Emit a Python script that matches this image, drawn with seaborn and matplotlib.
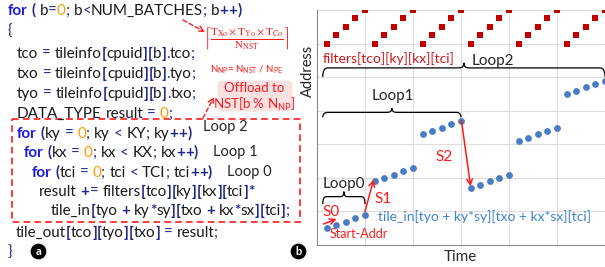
import re
import matplotlib
matplotlib.use('Agg')
import matplotlib.pyplot as plt
import seaborn as sns
import pandas as pd
from matplotlib.path import Path
from matplotlib.patches import PathPatch, Rectangle, FancyBboxPatch
from matplotlib.font_manager import FontProperties
from matplotlib.ticker import MultipleLocator

# ---- chart data ----
time = [1, 2, 3, 4, 5, 6, 7, 8, 9, 10, 11, 12, 13, 14, 15,
        16, 17, 18, 19, 20, 21, 22, 23, 24, 25, 26, 27, 28, 29, 30]
filter_addr = [24, 25, 26, 27, 28, 24, 25, 26, 27, 28, 24, 25, 26, 27, 28,
               24, 25, 26, 27, 28, 24, 25, 26, 27, 28, 24, 25, 26, 27, 28]
tile_addr = [2.0, 2.4, 2.8, 3.2, 3.6, 7.6, 8.0, 8.4, 8.8, 9.2,
             13.2, 13.6, 14.0, 14.4, 14.8, 6.8, 7.2, 7.6, 8.0, 8.4,
             12.4, 12.8, 13.2, 13.6, 14.0, 18.0, 18.4, 18.8, 19.2, 19.6]

code_lines = [
    "for ( b=0; b<NUM_BATCHES; b++)",
    "{",
    "tco = tileinfo[cpuid][b].tco;",
    "txo = tileinfo[cpuid][b].tyo;",
    "tyo = tileinfo[cpuid][b].txo;",
    "DATA_TYPE result = 0;",
    "for (ky = 0; ky < KY; ky++)",
    "for (kx = 0; kx < KX; kx++)",
    "for (tci = 0; tci < TCI; tci++)",
    "result += filters[tco][ky][kx][tci]*",
    "tile_in[tyo + ky*sy][txo + kx*sx][tci];",
    "tile_out[tco][tyo][txo] = result;",
    "}",
]
code_x = [8, 8, 17, 17, 17, 17, 17, 24, 32, 39, 51, 16, 8]
code_base = [15, 36, 58, 78, 98, 118, 138, 157, 177, 196, 215, 237, 257]

df = pd.DataFrame({'time': time, 'filters': filter_addr, 'tile_in': tile_addr})

sns.set_style('white')
plt.rcParams['font.family'] = ['Lato', 'DejaVu Sans']

RED = '#FF1A1A'
KW_C, OP_C, NUM_C, ID_C = '#1C1CE0', '#1F2A88', '#FF9A00', '#1A1A1A'

fig = plt.figure(figsize=(6.05, 2.67), dpi=100)

# ---- right panel: address trace ----
ax = fig.add_axes([317 / 605, 22 / 267, 288 / 605, 235 / 267])
sns.scatterplot(data=df, x='time', y='filters', marker='s', color='#C00000',
                s=20, linewidth=0, ax=ax, zorder=3)
sns.scatterplot(data=df, x='time', y='tile_in', marker='o', color='#4A7DC0',
                s=24, linewidth=0, ax=ax, zorder=3)
ax.set_xlim(0, 30)
ax.set_ylim(0, 28)
ax.xaxis.set_major_locator(MultipleLocator(5))
ax.xaxis.set_minor_locator(MultipleLocator(1))
ax.yaxis.set_major_locator(MultipleLocator(4))
ax.yaxis.set_minor_locator(MultipleLocator(1))
ax.grid(True, which='major', color='#DEDEDE', lw=0.8)
ax.set_axisbelow(True)
for s in ['top', 'right']:
    ax.spines[s].set_visible(False)
for s in ['left', 'bottom']:
    ax.spines[s].set_color('#8C8C8C')
ax.tick_params(which='major', direction='inout', length=6, color='#8C8C8C',
               labelbottom=False, labelleft=False)
ax.tick_params(which='minor', direction='out', length=3, color='#8C8C8C')
ax.set_xlabel('Time', fontsize=11)
ax.set_ylabel('Address', fontsize=10.5)
ax.xaxis.set_label_coords(0.497, -0.02)
ax.yaxis.set_label_coords(-0.008, 0.74)


def brace(ax, x0, x1, y, drop, rise, r=0.5):
    xm = (x0 + x1) / 2
    verts = [(x0, y - drop), (x0, y), (x0 + r, y), (xm - r, y), (xm, y), (xm, y + rise),
             (xm, y), (xm + r, y), (x1 - r, y), (x1, y), (x1, y - drop)]
    codes = [Path.MOVETO, Path.CURVE3, Path.CURVE3, Path.LINETO, Path.CURVE3, Path.CURVE3,
             Path.CURVE3, Path.CURVE3, Path.LINETO, Path.CURVE3, Path.CURVE3]
    ax.add_patch(PathPatch(Path(verts, codes), fc='none', ec='black', lw=0.9, clip_on=False))


brace(ax, 0.6, 30, 21.1, 1.07, 0.6)
brace(ax, 0.6, 15, 15.8, 0.6, 0.5)
brace(ax, 0.6, 5.0, 5.76, 0.9, 0.6, r=0.35)
ax.text(16.1, 21.9, 'Loop2', fontsize=11, va='center')
ax.text(5.7, 17.8, 'Loop1', fontsize=11, va='center')
ax.text(0.6, 7.27, 'Loop0', fontsize=11, va='center')
ax.text(0.6, 22.2, 'filters[tco][ky][kx][tci]', fontsize=10, color='#D01818', va='center')
ax.text(6.4, 3.4, 'tile_in[tyo + ky*sy][txo + kx*sx][tci]', fontsize=10,
        color='#3E84CF', va='center')
ax.text(0.6, 3.97, 'S0', fontsize=11, color=RED, va='center')
ax.text(1.35, 1.3, 'Start-Addr', fontsize=9, color=RED, va='center')
ax.text(5.94, 5.5, 'S1', fontsize=11, color=RED, va='center')
ax.text(12.3, 10.5, 'S2', fontsize=11, color=RED, va='center')
arrow = dict(arrowstyle='->', color=RED, lw=1.1, shrinkA=0, shrinkB=0)
ax.annotate('', xy=(2.05, 3.1), xytext=(0.66, 2.5), arrowprops=arrow)
ax.annotate('', xy=(5.9, 7.8), xytext=(5.0, 4.0), arrowprops=arrow)
ax.annotate('', xy=(16.0, 7.0), xytext=(15.05, 14.8), arrowprops=arrow)

# ---- left panel: code listing (pixel coordinates) ----
ov = fig.add_axes([0, 0, 1, 1])
ov.set_xlim(0, 605)
ov.set_ylim(267, 0)
ov.axis('off')
ov.patch.set_alpha(0)

renderer = fig.canvas.get_renderer()
CODE_SIZE = 11
TOKEN = re.compile(r'\bfor\b|\d+|[A-Za-z_]+|\s+|\S')


def width(s, prop):
    w1 = renderer.get_text_width_height_descent('|' + s + '|', prop, ismath=False)[0]
    w0 = renderer.get_text_width_height_descent('||', prop, ismath=False)[0]
    return w1 - w0


for line, x, yb in zip(code_lines, code_x, code_base):
    for m in TOKEN.finditer(line):
        tok = m.group()
        if tok == 'for':
            c, wgt = KW_C, 'bold'
        elif tok.isdigit():
            c, wgt = NUM_C, 'normal'
        elif re.match(r'[A-Za-z_\s]', tok):
            c, wgt = ID_C, 'normal'
        elif tok in '[]()+*':
            c, wgt = OP_C, 'bold'
        else:
            c, wgt = OP_C, 'normal'
        prop = FontProperties(family=['Lato', 'DejaVu Sans'], size=CODE_SIZE, weight=wgt)
        if not tok.isspace():
            ov.text(x, yb, tok, fontproperties=prop, color=c, va='baseline', ha='left')
        x += width(tok, prop)

ov.text(203, 127, 'Loop 2', fontsize=10.5, va='center')
ov.text(213, 152, 'Loop 1', fontsize=10.5, va='center')
ov.text(227, 172, 'Loop 0', fontsize=10.5, va='center')
ov.add_patch(Rectangle((12, 119), 288, 103, fill=False, ec=RED, ls=(0, (4, 2.5)), lw=1.2))

ov.text(247, 38, r'$\left\lceil\frac{\mathrm{T_{Xo}\times T_{Yo}\times T_{Co}}}{\mathrm{N_{NST}}}\right\rceil$',
        fontsize=11.5, color=RED, ha='center', va='center', math_fontfamily='stix')
ov.text(210, 70, r'N$_\mathregular{NP}$= N$_\mathregular{NST}$ / N$_\mathregular{PE}$',
        fontsize=7, color=RED, ha='left', va='center')
ov.add_patch(FancyBboxPatch((219, 82), 72, 28, boxstyle='round,pad=1.5,rounding_size=5',
                            fc='#FBE2E2', ec='none'))
ov.text(254, 88, 'Offload to', fontsize=9.5, color=RED, ha='center', va='center')
ov.text(254, 104, r'NST[b % N$_\mathregular{NP}$]', fontsize=9.5, color=RED,
        ha='center', va='center')
dash_arrow = dict(arrowstyle='->', color=RED, lw=1.0, ls=(0, (3, 2)), shrinkA=0, shrinkB=0)
ov.annotate('', xy=(205, 32), xytext=(183, 20), arrowprops=dash_arrow)
ov.annotate('', xy=(214, 97), xytext=(203, 118), arrowprops=dash_arrow)

for lbl, cx in [('a', 38.5), ('b', 298.5)]:
    ov.text(cx, 251.5, lbl, fontsize=8, fontweight='bold', color='white', ha='center',
            va='center', bbox=dict(boxstyle='circle,pad=0.15', fc='black', ec='black'))

fig.savefig('out.png', dpi=100)
